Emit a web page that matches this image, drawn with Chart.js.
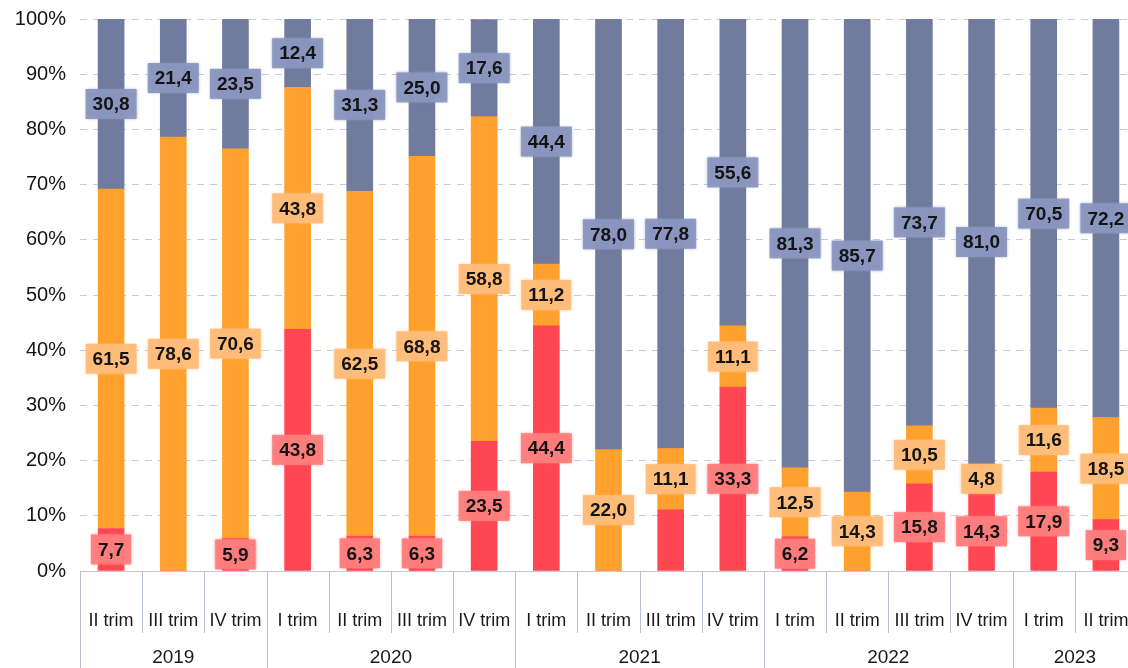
<!DOCTYPE html>
<html>
<head>
<meta charset="utf-8">
<script src="https://cdn.jsdelivr.net/npm/chart.js@4/dist/chart.umd.min.js"></script>
<style>
    html, body { margin: 0; padding: 0; background: #fff; overflow: hidden; }
    #wrap { width: 1137px; height: 675px; margin-top: -7px; }
</style>
</head>
<body>
<div id="wrap"><canvas id="chartTrim"></canvas></div>
<script>
const quarters = ['II trim', 'III trim', 'IV trim',
    'I trim', 'II trim', 'III trim', 'IV trim',
    'I trim', 'II trim', 'III trim', 'IV trim',
    'I trim', 'II trim', 'III trim', 'IV trim',
    'I trim', 'II trim'];
const years = ['2019', '2020', '2021', '2022', '2023'];
const quartersPerYear = [3, 4, 4, 4, 2];

const rojo = [7.7, 0, 5.9, 43.8, 6.3, 6.3, 23.5, 44.4, 0, 11.1, 33.3, 6.2, 0, 15.8, 14.3, 17.9, 9.3];
const naranja = [61.5, 78.6, 70.6, 43.8, 62.5, 68.8, 58.8, 11.2, 22.0, 11.1, 11.1, 12.5, 14.3, 10.5, 4.8, 11.6, 18.5];
const gris = [30.8, 21.4, 23.5, 12.4, 31.3, 25.0, 17.6, 44.4, 78.0, 77.8, 55.6, 81.3, 85.7, 73.7, 81.0, 70.5, 72.2];

const yTicks = [0, 10, 20, 30, 40, 50, 60, 70, 80, 90, 100];

// etiquetas que no se muestran (índice de serie, índice de trimestre)
const sinEtiqueta = [[0, 9]];

const labelBg = ['rgba(255, 125, 125, 0.92)', 'rgba(255, 188, 122, 0.92)', 'rgba(138, 150, 190, 0.92)'];
const FONT = '"Liberation Sans", Arial, sans-serif';

const fmt = (v) => v.toFixed(1).replace('.', ',');

const etiquetasPlugin = {
    id: 'etiquetas',
    afterDatasetsDraw(chart) {
        const ctx = chart.ctx;
        ctx.save();
        ctx.font = 'bold 19px ' + FONT;
        ctx.textAlign = 'center';
        ctx.textBaseline = 'middle';
        chart.data.datasets.forEach((ds, di) => {
            const meta = chart.getDatasetMeta(di);
            meta.data.forEach((bar, i) => {
                const v = ds.data[i];
                if (!v || sinEtiqueta.some(([d, q]) => d === di && q === i)) return;
                const y = (bar.y + bar.base) / 2;
                const text = fmt(v);
                const w = ctx.measureText(text).width + 14;
                const h = 30;
                ctx.shadowColor = labelBg[di];
                ctx.shadowBlur = 3;
                ctx.fillStyle = labelBg[di];
                ctx.fillRect(bar.x - w / 2, y - h / 2, w, h);
                ctx.shadowBlur = 0;
                ctx.fillStyle = '#141414';
                ctx.fillText(text, bar.x, y + 1);
            });
        });
        ctx.restore();
    }
};

const ejeXPlugin = {
    id: 'ejeX',
    afterDraw(chart) {
        const ctx = chart.ctx;
        const area = chart.chartArea;
        const x = chart.scales.x;
        const step = x.getPixelForValue(1) - x.getPixelForValue(0);
        const edge = (i) => x.getPixelForValue(i) - step / 2;
        ctx.save();

        // línea del 0%
        ctx.strokeStyle = '#c4c8d2';
        ctx.lineWidth = 1;
        ctx.beginPath();
        ctx.moveTo(area.left, area.bottom + 0.5);
        ctx.lineTo(area.right, area.bottom + 0.5);
        ctx.stroke();

        // separadores de trimestre y de año
        const yearStarts = [];
        let acc = 0;
        quartersPerYear.forEach((n) => { yearStarts.push(acc); acc += n; });
        yearStarts.push(acc);
        ctx.strokeStyle = '#b9c0cf';
        for (let i = 0; i <= quarters.length; i++) {
            const px = Math.round(edge(i)) + 0.5;
            const largo = yearStarts.includes(i) ? chart.height : area.bottom + 62;
            ctx.beginPath();
            ctx.moveTo(px, area.bottom);
            ctx.lineTo(px, largo);
            ctx.stroke();
        }

        ctx.fillStyle = '#1a1a1a';
        ctx.textAlign = 'center';
        ctx.textBaseline = 'middle';
        ctx.font = '18px ' + FONT;
        quarters.forEach((q, i) => {
            ctx.fillText(q, x.getPixelForValue(i), area.bottom + 50);
        });

        ctx.font = '19px ' + FONT;
        years.forEach((y, k) => {
            const cx = (edge(yearStarts[k]) + edge(yearStarts[k + 1])) / 2;
            ctx.fillText(y, cx, area.bottom + 87);
        });
        ctx.restore();
    }
};

const buildChart = () => {
    const canvas = document.getElementById('chartTrim');
    if (!canvas || typeof Chart === 'undefined') return;

    new Chart(canvas.getContext('2d'), {
        type: 'bar',
        data: {
            labels: quarters,
            datasets: [
                { label: 'rojo', data: rojo, backgroundColor: '#ff4753' },
                { label: 'naranja', data: naranja, backgroundColor: '#ffa12c' },
                { label: 'gris', data: gris, backgroundColor: '#717b9d' }
            ]
        },
        options: {
            responsive: true,
            maintainAspectRatio: false,
            animation: false,
            layout: { padding: { top: 4, right: 0, left: 0, bottom: 0 } },
            datasets: {
                bar: { barThickness: 26 }
            },
            scales: {
                x: {
                    stacked: true,
                    grid: { display: false },
                    border: { display: false },
                    ticks: { display: false },
                    afterFit: (scale) => { scale.height = 97; }
                },
                y: {
                    stacked: true,
                    min: 0,
                    max: 100,
                    afterBuildTicks: (scale) => { scale.ticks = yTicks.map((v) => ({ value: v })); },
                    afterFit: (scale) => { scale.width = 80; },
                    // rejilla discontinua
                    border: { display: false, dash: [7, 6] },
                    grid: {
                        color: (c) => c.tick.value === 0 ? 'rgba(0,0,0,0)' : '#c3cae0',
                        drawTicks: false
                    },
                    ticks: {
                        padding: 14,
                        color: '#141414',
                        font: { family: FONT, size: 20 },
                        callback: (v) => v + '%'
                    }
                }
            },
            plugins: {
                legend: { display: false },
                tooltip: { enabled: false }
            }
        },
        plugins: [etiquetasPlugin, ejeXPlugin]
    });
};

document.addEventListener('DOMContentLoaded', buildChart);
</script>
</body>
</html>
